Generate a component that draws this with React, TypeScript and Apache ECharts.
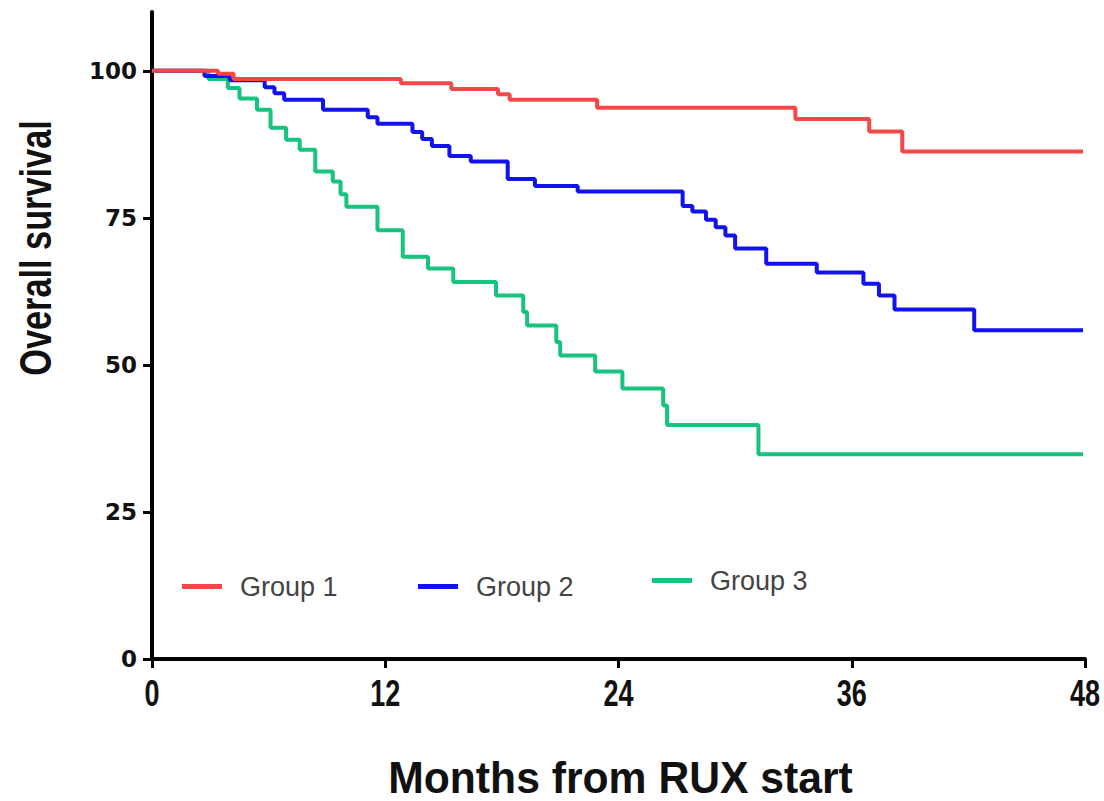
import React, { useEffect, useRef } from "react";
import * as echarts from "echarts";

// Kaplan–Meier overall survival by group (months from ruxolitinib start)
const group1Months = [0, 3.4, 4.2, 12.8, 15.4, 17.8, 18.4, 22.9, 33.1, 36.9, 38.6, 47.9];
const group1Survival = [100, 99.5, 98.6, 97.9, 96.9, 96.0, 95.1, 93.7, 91.8, 89.7, 86.3, 86.3];

const group2Months = [0, 2.7, 4.0, 5.8, 6.3, 6.8, 8.8, 11.1, 11.6, 13.4, 13.9, 14.4, 15.3, 16.4, 18.3, 19.7, 21.9, 27.3, 27.8, 28.5, 29.0, 29.5, 30.0, 31.6, 34.2, 36.6, 37.4, 38.2, 42.3, 47.9];
const group2Survival = [100, 99.1, 98.4, 97.2, 96.2, 95.1, 93.4, 92.1, 91.0, 89.6, 88.4, 87.2, 85.5, 84.6, 81.6, 80.4, 79.5, 77.0, 76.1, 74.7, 73.4, 72.0, 69.8, 67.2, 65.7, 63.8, 61.8, 59.4, 55.9, 55.9];

const group3Months = [0, 2.9, 3.9, 4.5, 5.4, 6.1, 6.9, 7.6, 8.4, 9.3, 9.7, 10.0, 11.6, 12.9, 14.2, 15.5, 17.7, 19.1, 19.3, 20.8, 21.0, 22.8, 24.2, 26.3, 26.5, 31.2, 47.9];
const group3Survival = [100, 98.6, 97.1, 95.3, 93.4, 90.3, 88.3, 86.6, 82.9, 81.2, 79.0, 76.9, 72.9, 68.4, 66.4, 64.1, 61.8, 59.0, 56.7, 53.9, 51.6, 48.9, 46.0, 43.1, 39.8, 34.8, 34.8];

const groupNames = ["Group 1", "Group 2", "Group 3"];
const groupColors = ["#f44848", "#1212ee", "#18c27f"];

const xTicks = [0, 12, 24, 36, 48];
const yTicks = [0, 25, 50, 75, 100];

const xTitle = "Months from RUX start";
const yTitle = "Overall survival";

const boldSans = "'Liberation Sans', Arial, sans-serif";

function toPoints(months: number[], survival: number[]) {
  return months.map((m, i) => [m, survival[i]]);
}

export default function App() {
  const ref = useRef<HTMLDivElement>(null);

  useEffect(() => {
    if (!ref.current) return;
    const chart = echarts.init(ref.current, null, { renderer: "svg" });

    const curves = [
      toPoints(group1Months, group1Survival),
      toPoints(group2Months, group2Survival),
      toPoints(group3Months, group3Survival),
    ];

    const legendPos = [
      { left: 182, top: 573 },
      { left: 418, top: 573 },
      { left: 652, top: 567 },
    ];

    // group 3 first so group 1 sits on top where curves overlap
    const order = [2, 1, 0];

    chart.setOption({
      animation: false,
      backgroundColor: "#ffffff",
      grid: {
        left: 152,
        right: 19,
        top: 12,
        bottom: 142,
        containLabel: false,
        outerBoundsMode: "none",
      },
      legend: legendPos.map((p, i) => ({
        left: p.left,
        top: p.top,
        padding: 0,
        data: [groupNames[i]],
        icon: "rect",
        itemWidth: 40,
        itemHeight: 5,
        selectedMode: false,
        textStyle: {
          fontSize: 27,
          color: "#444",
          fontFamily: boldSans,
          padding: [0, 0, 0, 13],
        },
      })),
      xAxis: {
        type: "value",
        min: 0,
        max: 48,
        interval: 12,
        axisLine: { lineStyle: { color: "#000", width: 4 } },
        axisTick: { length: 9, lineStyle: { color: "#000", width: 3 }, customValues: xTicks },
        axisLabel: { show: false },
        splitLine: { show: false },
      },
      yAxis: {
        type: "value",
        min: 0,
        max: 110,
        interval: 25,
        axisLine: { show: true, lineStyle: { color: "#000", width: 4 } },
        axisTick: { show: true, length: 9, lineStyle: { color: "#000", width: 3 }, customValues: yTicks },
        axisLabel: {
          customValues: yTicks,
          margin: 15,
          fontSize: 23,
          fontWeight: "bold",
          color: "#111",
          fontFamily: "'DejaVu Sans', sans-serif",
        },
        splitLine: { show: false },
      },
      series: order.map((i) => ({
        name: groupNames[i],
        type: "line",
        step: "end",
        data: curves[i],
        showSymbol: false,
        symbol: "none",
        color: groupColors[i],
        lineStyle: { width: 4, color: groupColors[i] },
        clip: false,
      })),
    });

    // condensed bold month labels, placed through the x axis scale
    const axisY = chart.convertToPixel({ yAxisIndex: 0 }, 0) as number;
    const tickLabels = xTicks.map((v) => ({
      type: "text",
      x: chart.convertToPixel({ xAxisIndex: 0 }, v) as number,
      y: axisY + 35,
      scaleX: 0.75,
      style: {
        text: String(v),
        font: `bold 36px ${boldSans}`,
        fill: "#111",
        align: "center",
        verticalAlign: "middle",
      },
    }));

    const x0 = chart.convertToPixel({ xAxisIndex: 0 }, 0) as number;
    const x1 = chart.convertToPixel({ xAxisIndex: 0 }, 48) as number;

    chart.setOption({
      graphic: [
        ...tickLabels,
        {
          type: "text",
          x: (x0 + x1) / 2 + 2,
          y: axisY + 119,
          scaleX: 0.97,
          style: {
            text: xTitle,
            font: `bold 44px ${boldSans}`,
            fill: "#111",
            align: "center",
            verticalAlign: "middle",
          },
        },
        {
          type: "text",
          x: 35,
          y: 248,
          rotation: Math.PI / 2,
          scaleX: 0.78,
          style: {
            text: yTitle,
            font: `bold 44px ${boldSans}`,
            fill: "#111",
            align: "center",
            verticalAlign: "middle",
          },
        },
      ],
    });

    return () => chart.dispose();
  }, []);

  return (
    <div
      ref={ref}
      style={{ position: "fixed", left: 0, top: 0, width: 1104, height: 801, background: "#fff" }}
    />
  );
}
